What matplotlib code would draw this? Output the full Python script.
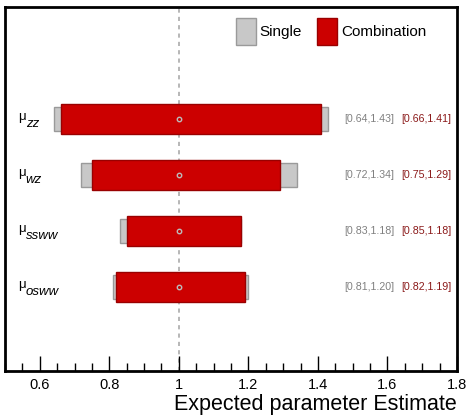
import matplotlib
matplotlib.use("Agg")
import matplotlib.pyplot as plt
from matplotlib.patches import Rectangle
from matplotlib.ticker import MultipleLocator

plt.rcParams["font.family"] = ["Liberation Sans", "DejaVu Sans"]

# Parameters of interest, top to bottom
params = ["zz", "wz", "ssww", "osww"]
# 68% intervals from the individual fits
single_lo = [0.64, 0.72, 0.83, 0.81]
single_hi = [1.43, 1.34, 1.18, 1.20]
# 68% intervals from the combined fit
comb_lo = [0.66, 0.75, 0.85, 0.82]
comb_hi = [1.41, 1.29, 1.18, 1.19]
# Expected central value
central = [1.0, 1.0, 1.0, 1.0]

xticks = [0.6, 0.8, 1.0, 1.2, 1.4, 1.6, 1.8]
xticklabels = ["0.6", "0.8", "1", "1.2", "1.4", "1.6", "1.8"]

gray_face, gray_edge = "#c8c8c8", "#9a9a9a"
red_face, red_edge = "#cc0000", "#990000"

fig = plt.figure(figsize=(4.68, 4.16), dpi=100)
ax = fig.add_axes([5 / 468, 45 / 416, 452 / 468, 364 / 416])

ax.set_xlim(0.5, 1.8)
ax.set_ylim(-0.5, 6.0)

ax.axvline(1.0, color="#aaaaaa", lw=1.2, ls=(0, (2.5, 2.5)), zorder=1)

n = len(params)
for i, name in enumerate(params):
    y = n - i
    ax.barh(y, single_hi[i] - single_lo[i], left=single_lo[i], height=0.42,
            color=gray_face, edgecolor=gray_edge, lw=1.0, zorder=2)
    ax.barh(y, comb_hi[i] - comb_lo[i], left=comb_lo[i], height=0.52,
            color=red_face, edgecolor=red_edge, lw=1.0, zorder=3)
    ax.plot(central[i], y, marker="o", ms=3.2, mfc="none", mec="#bbbbbb",
            mew=1.0, zorder=4)
    ax.text(1.62, y, f"[{single_lo[i]:.2f},{single_hi[i]:.2f}]",
            ha="right", va="center", fontsize=7.7, color="#808080")
    ax.text(1.64, y, f"[{comb_lo[i]:.2f},{comb_hi[i]:.2f}]",
            ha="left", va="center", fontsize=7.7, color="#8b1a1a")
    # parameter label: small upright mu with a large italic subscript
    ax.annotate("\u03bc", xy=(0.5, y), xytext=(9.2, -0.8),
                textcoords="offset points", ha="left", va="baseline",
                fontsize=9.5)
    ax.annotate(name, xy=(0.5, y), xytext=(15.0, -5.8),
                textcoords="offset points", ha="left", va="baseline",
                fontsize=9.5, style="italic")

# Legend boxes
for x0, face, edge, label in [(1.165, gray_face, gray_edge, "Single"),
                              (1.398, red_face, red_edge, "Combination")]:
    ax.add_patch(Rectangle((x0, 5.32), 0.0575, 0.48, facecolor=face,
                           edgecolor=edge, lw=1.0, zorder=3))
    ax.text(x0 + 0.068, 5.56, label, ha="left", va="center", fontsize=11)

ax.set_yticks([])
ax.set_xticks(xticks)
ax.set_xticklabels(xticklabels, fontsize=10.5)
ax.xaxis.set_minor_locator(MultipleLocator(0.05))
ax.tick_params(axis="x", which="major", direction="in", length=11, width=1,
               pad=5)
ax.tick_params(axis="x", which="minor", direction="in", length=5.5, width=1)
for side in ["left", "right", "top", "bottom"]:
    ax.spines[side].set_linewidth(2.0)

ax.set_xlabel("Expected parameter Estimate", fontsize=15.5, loc="right",
              labelpad=1.5)

fig.text(457 / 468, 1.0 + 4.5 / 416, "Expected signal strengths (Asimov)",
         ha="right", va="baseline", fontsize=15)

fig.savefig("out.png", dpi=100)
